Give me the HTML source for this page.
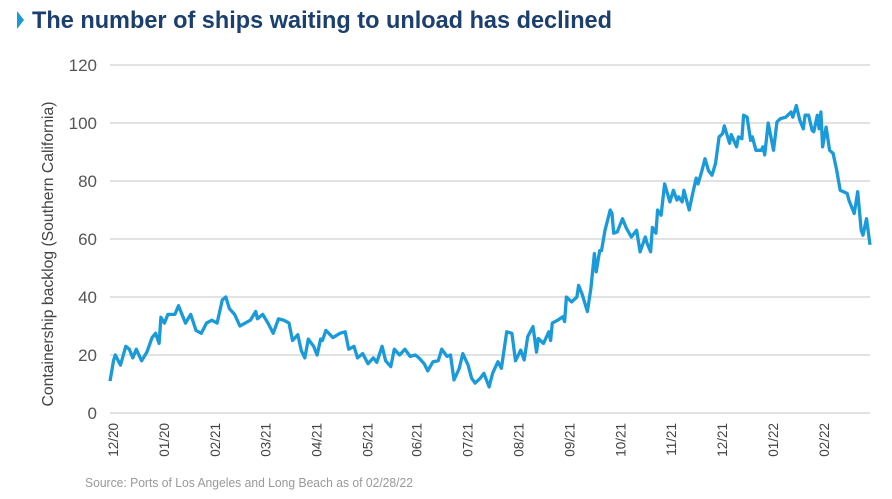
<!DOCTYPE html>
<html><head><meta charset="utf-8"><style>
html,body{margin:0;padding:0;background:#fff;}
svg{display:block;}
text{font-family:"Liberation Sans Narrow","Liberation Sans",sans-serif;}
</style></head><body>
<svg id="chart" width="892" height="499" viewBox="0 0 892 499">
<polygon points="17,11 17,29 24,20" fill="#1a9ad9"/>
<text x="32" y="28" font-size="24" font-weight="bold" fill="#1b3f6e" textLength="580" lengthAdjust="spacingAndGlyphs">The number of ships waiting to unload has declined</text>
<g id="grid"></g>
<g id="yticks"></g>
<g id="xticks"></g>
<text transform="translate(53,254) rotate(-90)" text-anchor="middle" font-size="16" fill="#444" textLength="305" lengthAdjust="spacingAndGlyphs">Containership backlog (Southern California)</text>
<path id="line" fill="none" stroke="#1a9ad9" stroke-width="3.3" stroke-linejoin="round"/>
<text x="85" y="487" font-size="12.5" fill="#999" textLength="328" lengthAdjust="spacingAndGlyphs">Source: Ports of Los Angeles and Long Beach as of 02/28/22</text>
</svg>
<script>
const days=[0,2,3,6,9,11,13,15,18,21,24,26,28,29,31,33,37,39,43,46,49,52,55,58,61,64,66,68,71,74,77,80,83,84,87,90,93,96,99,102,104,107,109,111,113,116,118,120,121,123,127,131,134,136,139,141,144,147,150,152,155,157,160,162,165,168,171,174,176,179,181,184,187,189,192,194,196,199,201,204,206,208,211,213,216,218,221,223,226,229,231,234,236,238,241,243,244,247,250,251,252,255,258,259,260,263,266,267,269,272,274,276,277,279,280,282,285,286,287,289,292,294,297,300,302,305,306,308,309,311,312,314,316,319,321,323,324,326,327,330,332,334,335,337,339,341,343,345,347,349,350,353,354,357,358,360,361,363,365,366,368,371,372,373,375,378,380,382,385,388,389,391,393,395,396,398,400,401,403,404,405,406,408,410,412,414,416,420,421,424,426,428,429,431,433];
const ships=[11,18,20,16.5,23,22,19,22,18,21,26,27.5,24,33,31,34,34,37,31,34,28.5,27.5,31,32,31,39,40,36,34,30,31,32,35,32.5,34,31,27.5,32.5,32,31,25,27,21.5,19,25.5,23,20,25.5,25,28.5,26,27.5,28,22,23,19,20.5,17,19,17.5,23,18,16,22,20,22,19.5,20,19,17,14.5,17.7,18,22,19.5,20,11.4,15.4,20.5,16.5,12,10.3,12,13.7,9,13.7,17.7,15.4,28,27.5,18,21.7,18.3,26.3,29.8,21,25.7,24,28,25,31,32,33.2,31.5,40,38.3,40,44,41,35,43,55,48.7,56,56,63,70,68.8,62,62.5,67,64,60.7,63,55.6,60.7,58.5,55.6,64,62,70,68.2,79,72.8,76.8,73.4,74.5,72.8,76.8,70,75.7,81,79,83,87.7,83.6,82,86,95.2,96.3,99,93,96,91.8,95.2,94.6,102.7,102,94,95.2,90.6,90.6,91.8,89,100,90.6,100.4,101.5,102,103.8,102,106,101,98,102.7,102.7,97.5,97,102.7,98,103.8,91.8,98.6,90.6,89.5,83.7,76.8,75.7,73.4,68.8,76.3,63,61.3,67,58];
const yTicks=[0,20,40,60,80,100,120];
const xLabels=["12/20","01/20","02/21","03/21","04/21","05/21","06/21","07/21","08/21","09/21","10/21","11/21","12/21","01/22","02/22"];
const xLabelDays=[2,31,60,89,118,147,175,204,233,262,291,320,349,378,407];

const NS="http://www.w3.org/2000/svg";
const X0=110,X1=870,D0=0,D1=433,Y0=413,Y1=65,V0=0,V1=120;
const xs=d=>X0+(d-D0)/(D1-D0)*(X1-X0);
const ys=v=>Y0-(v-V0)/(V1-V0)*(Y0-Y1);
const grid=document.getElementById('grid'),yt=document.getElementById('yticks'),xt=document.getElementById('xticks');
yTicks.forEach(v=>{
  const l=document.createElementNS(NS,'line');
  l.setAttribute('x1',X0);l.setAttribute('x2',X1);l.setAttribute('y1',ys(v));l.setAttribute('y2',ys(v));
  l.setAttribute('stroke','#d9d9d9');l.setAttribute('stroke-width','1.5');
  
  
  grid.appendChild(l);
  const t=document.createElementNS(NS,'text');
  t.setAttribute('x',97);t.setAttribute('y',ys(v)+6);t.setAttribute('text-anchor','end');
  t.setAttribute('font-size','17');t.setAttribute('fill','#555');
  t.textContent=v;
  
  
  yt.appendChild(t);
});
xLabels.forEach((s,i)=>{
  const t=document.createElementNS(NS,'text');
  const x=xs(xLabelDays[i])+4.5;
  t.setAttribute('transform','translate('+x+',423) rotate(-90)');
  t.setAttribute('text-anchor','end');t.setAttribute('font-size','13.5');t.setAttribute('fill','#444');
  t.textContent=s;
  
  
  xt.appendChild(t);
});
let d='';
days.forEach((dd,i)=>{d+=(i?'L':'M')+xs(dd).toFixed(1)+','+ys(ships[i]).toFixed(1);});
document.getElementById('line').setAttribute('d',d);
</script>
</body></html>
